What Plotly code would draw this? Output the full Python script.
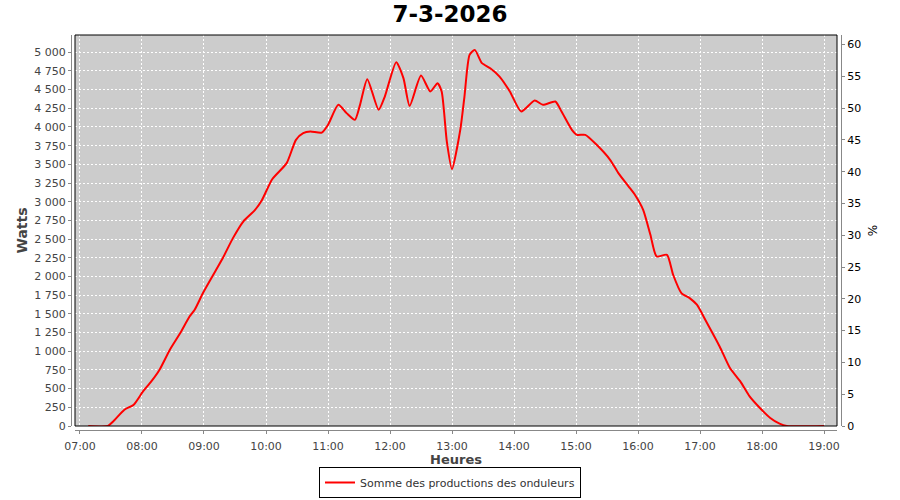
import plotly.graph_objects as go

DAY = "2026-03-07"
times = ["07:08", "07:27", "07:32", "07:43", "07:52", "08:01", "08:09", "08:17", "08:27", "08:37",
         "08:46", "08:51", "08:59", "09:09", "09:19", "09:28", "09:38", "09:49", "09:56", "10:06",
         "10:20", "10:29", "10:36", "10:43", "10:54", "11:00", "11:10", "11:18", "11:26", "11:31",
         "11:38", "11:49", "11:55", "12:06", "12:13", "12:19", "12:30", "12:39", "12:46", "12:50",
         "12:55", "13:00", "13:08", "13:12", "13:17", "13:22", "13:29", "13:37", "13:46", "13:56",
         "14:07", "14:20", "14:28", "14:40", "14:46", "14:56", "15:01", "15:09", "15:20", "15:33",
         "15:41", "15:51", "15:57", "16:05", "16:12", "16:18", "16:28", "16:34", "16:42", "16:50",
         "16:57", "17:06", "17:19", "17:29", "17:39", "17:48", "17:58", "18:08", "18:17", "18:24",
         "19:00"]
watts = [0, 0, 60, 218, 285, 463, 596, 753, 1020, 1243,
         1465, 1555, 1778, 2023, 2268, 2513, 2735, 2883, 3020, 3300,
         3516, 3828, 3917, 3939, 3925, 4028, 4296, 4185, 4095, 4296,
         4639, 4229, 4407, 4867, 4653, 4282, 4688, 4474, 4586, 4474,
         3805, 3436, 3962, 4400, 4964, 5031, 4853, 4786, 4674, 4474,
         4206, 4353, 4296, 4340, 4206, 3962, 3895, 3895, 3761, 3561,
         3383, 3203, 3093, 2892, 2558, 2268, 2290, 2023, 1778, 1711,
         1622, 1398, 1064, 775, 596, 396, 241, 107, 31, 0,
         0]
series_name = "Somme des productions des onduleurs"
title_text = "7-3-2026"

x = [f"{DAY} {t}" for t in times]

FONT = "DejaVu Sans"
GREY = "#444444"

fig = go.Figure()
fig.add_trace(go.Scatter(x=x, y=watts, mode="lines", name=series_name,
                         line=dict(color="#ff0000", width=2, shape="spline", smoothing=0.6)))
# invisible trace to activate the right-hand percent axis
fig.add_trace(go.Scatter(x=[x[0]], y=[None], yaxis="y2", showlegend=False,
                         hoverinfo="skip", mode="lines"))

PW, PH = 770, 395
xd = [4 / PW, 766 / PW]
yd = [4 / PH, 1]

fig.update_layout(
    width=900, height=500,
    margin=dict(l=71, r=59, t=35, b=70, autoexpand=False),
    paper_bgcolor="white", plot_bgcolor="#cccccc",
    separators=", ",
    font=dict(family=FONT, size=11, color=GREY),
    title=dict(text=f"<b>{title_text}</b>", x=0.5, xanchor="center", xref="container",
               y=1 - 14 / 500, yanchor="middle", yref="container",
               font=dict(family=FONT, size=23, color="black")),
    xaxis=dict(type="date", domain=xd, anchor="free", position=0, automargin=False,
               range=[f"{DAY} 06:55:10", f"{DAY} 19:12:35"],
               dtick=3600000, tick0=f"{DAY} 07:00", tickformat="%H:%M",
               showgrid=True, gridcolor="white", griddash="2px,2px", gridwidth=1,
               showline=True, linecolor="#888888", linewidth=1,
               ticks="outside", ticklen=3, tickcolor="#888888",
               ticklabelstandoff=3,
               tickfont=dict(family=FONT, size=11, color=GREY),
               title=dict(text="<b>Heures</b>", standoff=4,
                          font=dict(family=FONT, size=13, color=GREY)),
               zeroline=False),
    yaxis=dict(domain=yd, anchor="free", position=0, range=[0, 5230], automargin=False,
               dtick=250, tick0=0, tickformat=",d",
               showgrid=True, gridcolor="white", griddash="2px,2px", gridwidth=1,
               showline=True, linecolor="#888888", linewidth=1,
               ticks="outside", ticklen=3, tickcolor="#888888",
               tickfont=dict(family=FONT, size=11, color=GREY),
               title=dict(text="<b>Watts</b>", standoff=2,
                          font=dict(family=FONT, size=14, color=GREY)),
               zeroline=False),
    yaxis2=dict(overlaying="y", side="right", anchor="free", position=1, automargin=False,
                range=[0, 61.5], dtick=5, tick0=0,
                showgrid=False, showline=True, linecolor="#888888", linewidth=1,
                ticks="outside", ticklen=3, tickcolor="#888888",
                tickfont=dict(family=FONT, size=11, color="black"),
                title=dict(text="%", standoff=8,
                           font=dict(family=FONT, size=12, color="black")),
                zeroline=False),
    legend=dict(orientation="h", xref="container", yref="container",
                x=0.5, xanchor="center", y=0.004, yanchor="bottom",
                bordercolor="black", borderwidth=1, bgcolor="white",
                font=dict(family=FONT, size=11, color="#333333"),
                itemwidth=30),
    showlegend=True,
    shapes=[dict(type="rect", xref="paper", yref="paper",
                 x0=xd[0], x1=xd[1], y0=yd[0], y1=yd[1],
                 line=dict(color="black", width=1), layer="above")],
)

fig.write_html("out.html", config={"displayModeBar": False},
               post_script="document.body.style.margin='0';document.body.style.padding='0';")
